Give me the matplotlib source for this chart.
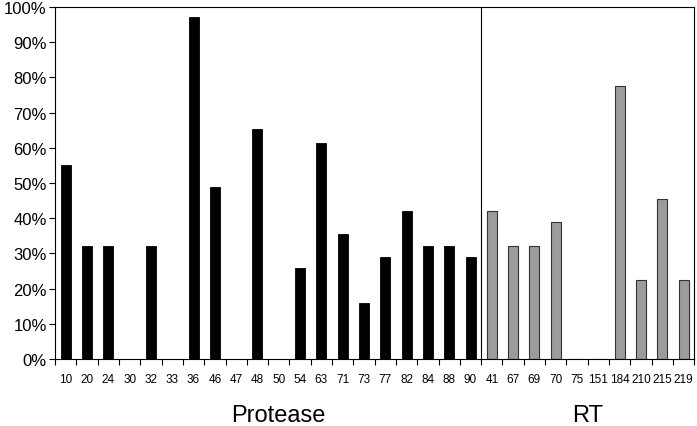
import matplotlib
matplotlib.use("Agg")
import matplotlib.pyplot as plt
import numpy as np
from matplotlib.ticker import PercentFormatter

protease_pos = ["10", "20", "24", "30", "32", "33", "36", "46", "47", "48",
                "50", "54", "63", "71", "73", "77", "82", "84", "88", "90"]
protease_pct = [55.0, 32.0, 32.0, 0, 32.0, 0, 97.2, 48.8, 0, 65.4,
                0, 25.8, 61.5, 35.6, 16.0, 29.0, 42.1, 32.0, 32.0, 29.0]
rt_pos = ["41", "67", "69", "70", "75", "151", "184", "210", "215", "219"]
rt_pct = [42.1, 32.2, 32.0, 38.8, 0, 0, 77.6, 22.4, 45.4, 22.4]

plt.rcParams['font.family'] = ['Liberation Sans', 'DejaVu Sans']

fig = plt.figure(figsize=(6.97, 4.27), dpi=100)
ax = fig.add_axes([0.079, 0.157, 0.917, 0.824])

n_p = len(protease_pos)
n_r = len(rt_pos)
xp = np.arange(n_p)
xr = np.arange(n_p, n_p + n_r)
w = 0.47

ax.bar(xp, protease_pct, width=w, color="black", edgecolor="black", linewidth=0.6)
ax.bar(xr, rt_pct, width=w, color="#9c9c9c", edgecolor="#333333", linewidth=0.8)

ax.set_xlim(-0.5, n_p + n_r - 0.5)
ax.set_ylim(0, 100)
ax.yaxis.set_major_locator(plt.MultipleLocator(10))
ax.yaxis.set_major_formatter(PercentFormatter(decimals=0))
ax.tick_params(axis='y', labelsize=12, length=4, width=0.8, direction='out', pad=2)

labels = protease_pos + rt_pos
ax.set_xticks(np.arange(n_p + n_r))
ax.set_xticklabels(labels, fontsize=8.5)
ax.tick_params(axis='x', length=0, pad=10)
ax.set_xticks(np.arange(n_p + n_r + 1) - 0.5, minor=True)
ax.tick_params(axis='x', which='minor', length=4, width=0.8, direction='out')

for s in ax.spines.values():
    s.set_linewidth(0.8)
    s.set_color("black")

ax.axvline(n_p - 0.5, color="black", linewidth=0.8)

ax.text(n_p / 2, -16, "Protease", ha="center", va="center",
        fontsize=17, clip_on=False)
ax.text(n_p + (n_r - 1) / 2, -16, "RT", ha="center", va="center",
        fontsize=17, clip_on=False)

fig.savefig("out.png", dpi=100)
